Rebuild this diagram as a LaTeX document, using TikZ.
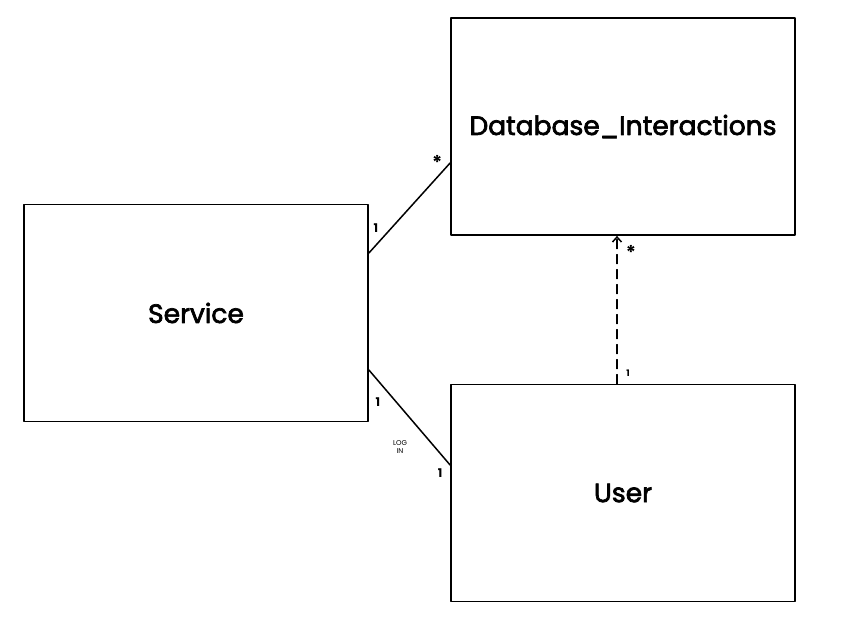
\documentclass[tikz,border=0pt]{standalone}
\usepackage{fontspec}
\setmainfont{Poppins}
\newfontfamily\medfont{Poppins}[FakeBold=2.6]
\usetikzlibrary{arrows.meta}

\tikzset{
  class/.style={draw,line width=1.8pt,minimum width=344pt,minimum height=217pt,inner sep=0pt,font=\fontsize{26.5}{30}\medfont},
  assoc/.style={line width=1.5pt},
  mult/.style={font=\fontsize{12}{13}\selectfont\bfseries,inner sep=1pt},
  star/.style={font=\fontsize{19}{20}\selectfont\bfseries,inner sep=1pt}
}

\begin{document}
\begin{tikzpicture}[line cap=round,line join=round,x=1pt,y=1pt]
\useasboundingbox (0,0) rectangle (847,633);
\node[class] (db) at (623,506.5) {Database\_Interactions};
\node[class] (service) at (196,320) {Service};
\node[class] (user) at (623,140) {User};
\coordinate (sdb) at ([yshift=60pt]service.east);
\coordinate (dbs) at ([yshift=-36.5pt]db.west);
\coordinate (su) at ([yshift=-57pt]service.east);
\coordinate (us) at ([yshift=28pt]user.west);
\coordinate (ud) at ([xshift=-6pt]user.north);
\coordinate (du) at ([xshift=-6pt]db.south);
\draw[assoc] (sdb) -- (dbs);
\draw[assoc] (su) -- (us);
\draw[assoc,dashed,dash pattern=on 9pt off 6pt,-{Straight Barb[length=5pt,width=9pt]}] (ud) -- (du);
\node[star] (m1) at ([xshift=-13pt,yshift=1pt]dbs) {*};
\node[mult] (m2) at ([xshift=7pt,yshift=25pt]sdb) {1};
\node[mult] (m3) at ([xshift=9pt,yshift=-32pt]su) {1};
\node[mult,font=\fontsize{7}{8}\selectfont,align=center] (login) at (400,186) {LOG\\IN};
\node[mult] (m4) at ([xshift=-10pt,yshift=-8pt]us) {1};
\node[star] (m5) at ([xshift=14pt,yshift=-17pt]du) {*};
\node[mult,font=\fontsize{9}{10}\selectfont\bfseries] (m6) at ([xshift=11pt,yshift=10pt]ud) {1};
\end{tikzpicture}
\end{document}
